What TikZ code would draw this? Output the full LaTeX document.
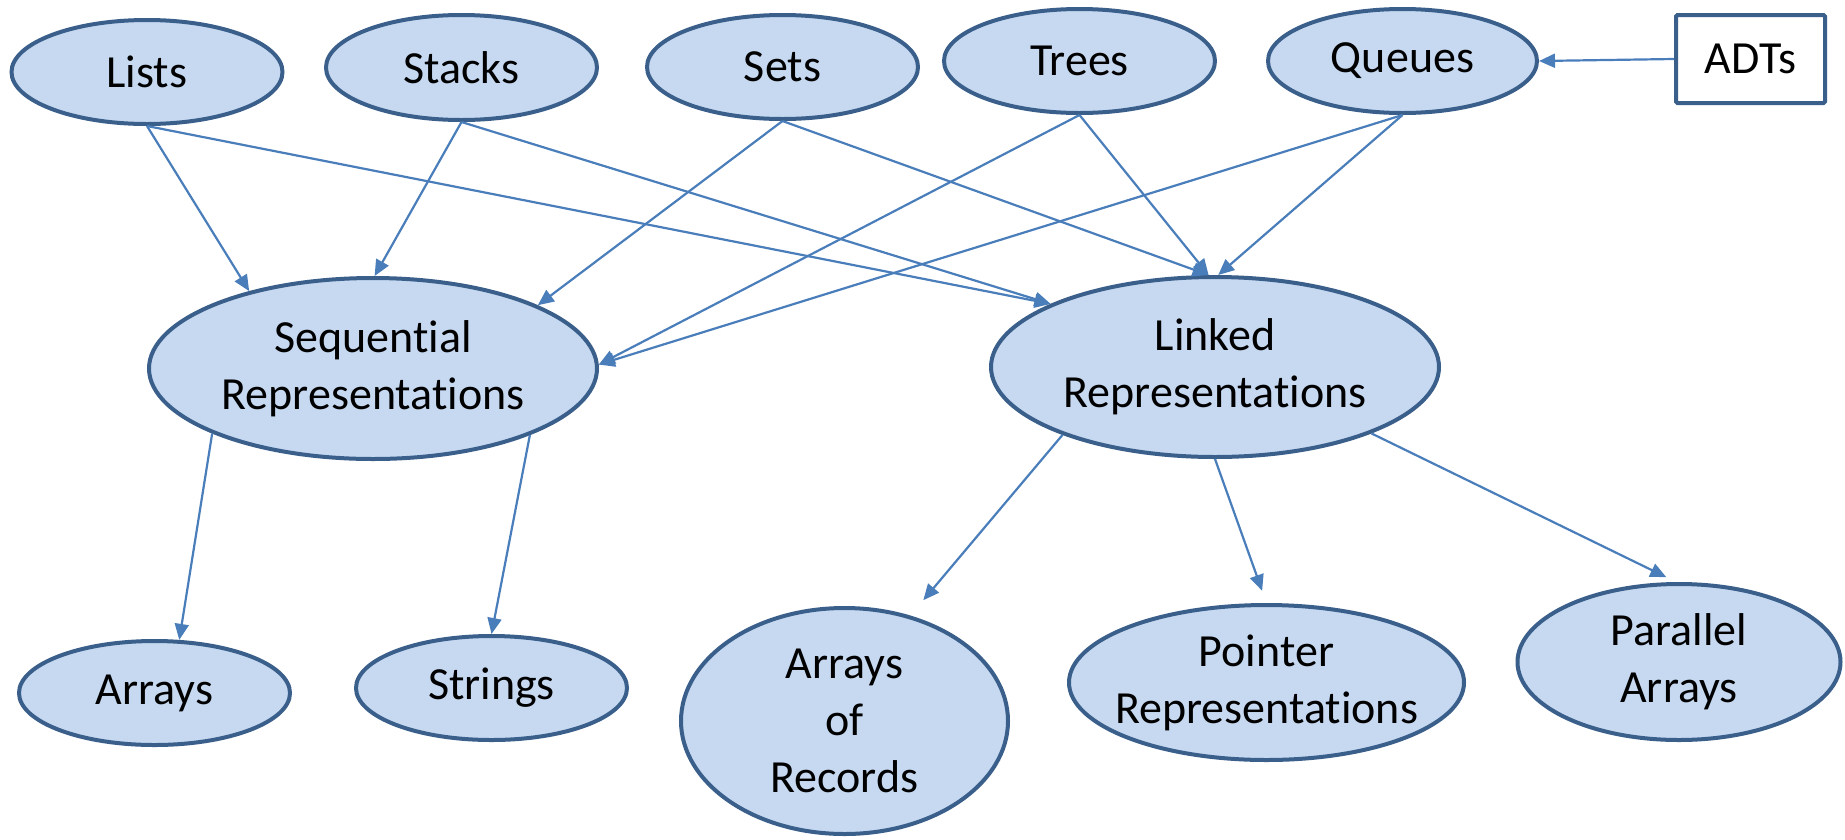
\documentclass[tikz,border=0pt]{standalone}
\usepackage{fontspec}
\setmainfont{Carlito}[Ligatures=NoCommon]
\usetikzlibrary{shapes.geometric,arrows.meta}
\definecolor{bd}{HTML}{3A5F8B}
\definecolor{fl}{HTML}{C6D9F1}
\definecolor{ar}{HTML}{4A7EBB}
\begin{document}
\begin{tikzpicture}[x=1pt,y=-1pt,
  lbl/.style={align=center,inner sep=0pt,font=\fontsize{46}{57}\selectfont},
  ell/.style={ellipse,draw=bd,fill=fl,line width=4pt,inner sep=0pt,lbl},
  box/.style={rectangle,draw=bd,fill=white,line width=4pt,inner sep=0pt,rounded corners=1.5pt,lbl},
  arr/.style={draw=ar,line width=2.2pt,-{Triangle[length=16pt,width=14pt]}}
]
\useasboundingbox (0,0) rectangle (1845,839);
% top row
\node[ell,minimum width=271pt,minimum height=104pt] (lists)  at (147,72)    {Lists};
\node[ell,minimum width=271pt,minimum height=105pt] (stacks) at (461.5,67.5) {Stacks};
\node[ell,minimum width=271pt,minimum height=104pt] (sets)   at (782.5,67)  {Sets};
\node[ell,minimum width=271pt,minimum height=104pt] (trees)  at (1079.5,61) {Trees};
\node[ell,minimum width=269pt,minimum height=104pt] (queues) at (1402.5,61) {Queues};
\node[box,minimum width=149pt,minimum height=88pt]  (adts)   at (1750.5,59) {ADTs};
% middle row
\node[ell,minimum width=448pt,minimum height=181pt] (seq) at (373,368.5) {Sequential\\Representations};
\node[ell,minimum width=448pt,minimum height=180pt] (lnk) at (1215,367)  {Linked\\Representations};
% bottom row
\node[ell,minimum width=271pt,minimum height=104pt] (arrays)  at (154.5,693) {Arrays};
\node[ell,minimum width=271pt,minimum height=104pt] (strings) at (491.5,688) {Strings};
\node[ell,minimum width=327pt,minimum height=226pt] (aor)     at (844.5,721) {Arrays\\of\\Records};
\node[ell,minimum width=395pt,minimum height=155pt,
      label={[lbl,name=ptrtext]center:Pointer\\Representations}] (ptr) at (1266.5,682.5) {};
\node[ell,minimum width=323pt,minimum height=156pt] (par) at (1679,662) {Parallel\\Arrays};
% connectors
\draw[arr] (lists.south)  -- (seq.148);
\draw[arr] (lists.south)  -- (lnk.159);
\draw[arr] (stacks.south) -- (seq.89);
\draw[arr] (stacks.south) -- (lnk.159);
\draw[arr] (sets.south)   -- (seq.21.5);
\draw[arr] (sets.south)   -- (lnk.94);
\draw[arr] (trees.south)  -- (seq.1);
\draw[arr] (trees.south)  -- (lnk.94);
\draw[arr] (queues.south) -- (seq.1);
\draw[arr] (queues.south) -- (lnk.88);
\draw[arr] (adts.west)    -- (queues.east);
\draw[arr] (seq.202) -- (arrays.65);
\draw[arr] (seq.337) -- (strings.north);
\draw[arr,shorten >=20pt] (lnk.204) -- (aor.58.7);
\draw[arr,shorten >=13pt] (lnk.south) -- (ptr.north);
\draw[arr,shorten >=11pt] (lnk.337) -- (par.92);
\end{tikzpicture}
\end{document}
